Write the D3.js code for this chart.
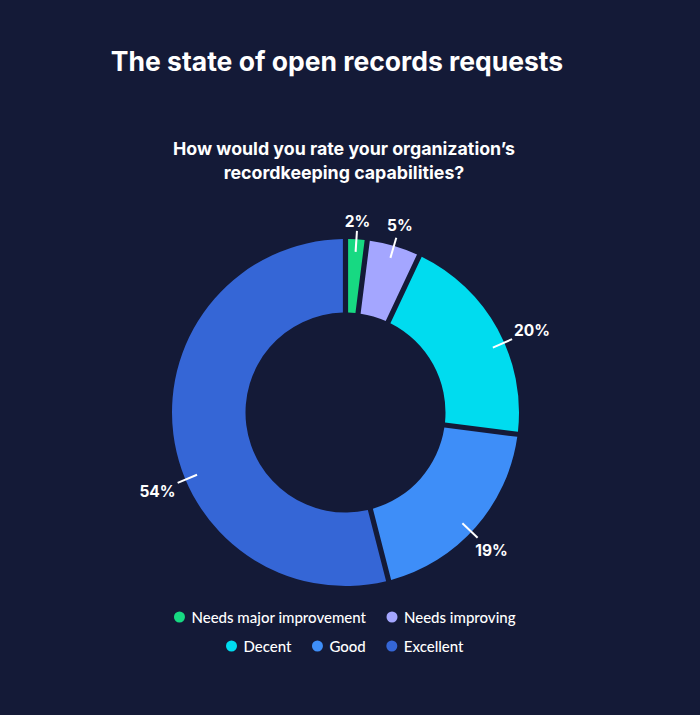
<!DOCTYPE html>
<html>
<head>
<meta charset="utf-8">
<script src="https://cdn.jsdelivr.net/npm/d3@7"></script>
<style>
  html, body { margin: 0; padding: 0; background: #141a37; }
  svg { display: block; }
  text { font-family: "Inter", "Lato", sans-serif; fill: #ffffff; }
</style>
</head>
<body>
<svg id="chart" width="700" height="715"></svg>
<script>
const categories = ["Needs major improvement", "Needs improving", "Decent", "Good", "Excellent"];
const values = [2, 5, 20, 19, 54];
const colors = ["#17d982", "#a4a6ff", "#00dcef", "#3e8ef8", "#3566d6"];
const title = "The state of open records requests";
const subtitleLines = ["How would you rate your organization’s", "recordkeeping capabilities?"];
// label placement tweak within each slice (fraction along the slice), layout only
const labelFraction = [0.5, 0.5, 0.57, 0.53, 0.42];

const svg = d3.select("#chart");
const W = 700, H = 715;
svg.append("rect").attr("width", W).attr("height", H).attr("fill", "#141a37");

svg.append("text").attr("x", 337).attr("y", 71).attr("text-anchor", "middle")
  .style("font-size", "26.5px").style("font-weight", 700).text(title);

svg.selectAll(".sub").data(subtitleLines).join("text").attr("class", "sub")
  .attr("x", 344).attr("y", (d, i) => 155 + i * 24).attr("text-anchor", "middle")
  .style("font-size", "17.8px").style("font-weight", 700).text(d => d);

const cx = 345.5, cy = 412.5, outerR = 173.5, innerR = 100;
const data = categories.map((c, i) => ({ cat: c, value: values[i], color: colors[i], frac: labelFraction[i] }));

const pie = d3.pie().value(d => d.value).sort(null);
const arcs = pie(data);
const arc = d3.arc().innerRadius(innerR).outerRadius(outerR).padAngle(0.026);

const g = svg.append("g").attr("transform", `translate(${cx},${cy})`);
g.selectAll("path").data(arcs).join("path").attr("d", arc).attr("fill", d => d.data.color);

arcs.forEach(a => {
  const ang = a.startAngle + (a.endAngle - a.startAngle) * a.data.frac;
  const s = Math.sin(ang), c = -Math.cos(ang);
  g.append("line")
    .attr("x1", s * 161).attr("y1", c * 161)
    .attr("x2", s * 182).attr("y2", c * 182)
    .attr("stroke", "#ffffff").attr("stroke-width", 2);
  const rt = 191 + 14 * Math.abs(s);
  g.append("text").attr("x", s * rt).attr("y", c * rt)
    .attr("text-anchor", "middle").attr("dominant-baseline", "central")
    .style("font-size", "15.5px").style("font-weight", 700)
    .text(a.data.value + "%");
});

// Legend
const rows = [[0, 1], [2, 3, 4]];
const rowY = [617, 646];
const legend = svg.append("g");
rows.forEach((row, ri) => {
  const rg = legend.append("g");
  let x = 0;
  row.forEach(i => {
    const item = rg.append("g").attr("transform", `translate(${x},0)`);
    item.append("circle").attr("cx", 5).attr("cy", 0).attr("r", 5.5).attr("fill", colors[i]);
    const t = item.append("text").attr("x", 17).attr("y", 0).attr("dominant-baseline", "central")
      .style("font-family", "Lato, sans-serif")
      .style("font-size", "15px").style("font-weight", 500).text(categories[i]);
    x += 17 + t.node().getComputedTextLength() + 21;
  });
  const total = x - 21;
  rg.attr("transform", `translate(${345 - total / 2},${rowY[ri]})`);
});
</script>
</body>
</html>
